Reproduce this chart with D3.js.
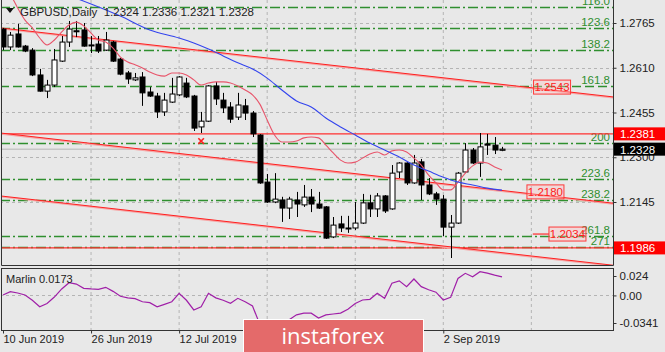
<!DOCTYPE html>
<html>
<head>
<meta charset="utf-8">
<script src="https://cdn.jsdelivr.net/npm/d3@7"></script>
<style>
body { margin: 0; background: #e8e8e8; }
text { font-family: "Liberation Sans", Arial, sans-serif; }
</style>
</head>
<body>
<svg id="chart" width="665" height="352"></svg>
<script>
// daily bars, 10 Jun 2019 .. 12 Sep 2019
var opens  = [1.2744,1.2682,1.2727,1.2685,1.2671,1.2585,1.2529,1.2550,1.2633,1.2699,1.2738,1.2741,1.2689,1.2692,1.2671,1.2699,1.2640,1.2592,1.2568,1.2578,1.2526,1.2512,1.2457,1.2491,1.2516,1.2557,1.2512,1.2405,1.2425,1.2547,1.2498,1.2474,1.2439,1.2478,1.2453,1.2377,1.2214,1.2145,1.2152,1.2124,1.2152,1.2135,1.2162,1.2138,1.2128,1.2024,1.2069,1.2055,1.2055,1.2072,1.2142,1.2121,1.2166,1.2121,1.2249,1.2280,1.2211,1.2284,1.2204,1.2173,1.2155,1.2058,1.2072,1.2249,1.2325,1.2280,1.2346,1.2342,1.2324];
var highs  = [1.2748,1.2734,1.2762,1.2689,1.2678,1.2606,1.2568,1.2675,1.2720,1.2772,1.2772,1.2765,1.2720,1.2720,1.2734,1.2703,1.2644,1.2599,1.2592,1.2595,1.2543,1.2523,1.2523,1.2575,1.2581,1.2575,1.2516,1.2457,1.2550,1.2561,1.2523,1.2491,1.2523,1.2502,1.2460,1.2380,1.2242,1.2245,1.2163,1.2163,1.2180,1.2204,1.2190,1.2180,1.2131,1.2093,1.2097,1.2097,1.2145,1.2173,1.2170,1.2176,1.2169,1.2273,1.2283,1.2283,1.2308,1.2294,1.2228,1.2180,1.2169,1.2100,1.2249,1.2349,1.2332,1.2384,1.2381,1.2370,1.2336];
var lows   = [1.2671,1.2671,1.2680,1.2664,1.2581,1.2527,1.2505,1.2543,1.2630,1.2682,1.2716,1.2683,1.2661,1.2661,1.2668,1.2630,1.2584,1.2554,1.2564,1.2478,1.2509,1.2436,1.2443,1.2488,1.2512,1.2505,1.2391,1.2384,1.2422,1.2481,1.2453,1.2419,1.2429,1.2429,1.2370,1.2208,1.2142,1.2141,1.2076,1.2086,1.2093,1.2128,1.2110,1.2121,1.2017,1.2020,1.2041,1.2038,1.2048,1.2069,1.2093,1.2093,1.2107,1.2118,1.2228,1.2204,1.2208,1.2152,1.2169,1.2135,1.2027,1.1951,1.2069,1.2245,1.2277,1.2232,1.2308,1.2311,1.2321];
var closes = [1.2682,1.2723,1.2682,1.2668,1.2585,1.2529,1.2550,1.2637,1.2699,1.2744,1.2736,1.2685,1.2687,1.2668,1.2706,1.2633,1.2588,1.2571,1.2575,1.2523,1.2512,1.2457,1.2498,1.2519,1.2578,1.2509,1.2401,1.2425,1.2547,1.2502,1.2471,1.2432,1.2481,1.2453,1.2381,1.2211,1.2145,1.2155,1.2124,1.2155,1.2138,1.2162,1.2138,1.2124,1.2020,1.2065,1.2055,1.2052,1.2072,1.2142,1.2121,1.2166,1.2114,1.2245,1.2280,1.2211,1.2280,1.2204,1.2173,1.2155,1.2058,1.2072,1.2245,1.2325,1.2280,1.2336,1.2342,1.2325,1.2328];

// fast (pink) and slow (blue) moving averages
var fastMA = [1.2909,1.2865,1.2817,1.2775,1.2748,1.2713,1.2689,1.2706,1.2734,1.2758,1.2768,1.2755,1.2730,1.2706,1.2699,1.2678,1.2647,1.2630,1.2620,1.2609,1.2595,1.2585,1.2581,1.2592,1.2592,1.2585,1.2568,1.2550,1.2557,1.2561,1.2561,1.2557,1.2547,1.2533,1.2516,1.2484,1.2429,1.2377,1.2353,1.2353,1.2356,1.2367,1.2370,1.2367,1.2342,1.2315,1.2290,1.2280,1.2283,1.2297,1.2311,1.2318,1.2308,1.2322,1.2325,1.2318,1.2297,1.2273,1.2238,1.2211,1.2187,1.2187,1.2214,1.2245,1.2270,1.2283,1.2280,1.2266,1.2256];
var slowIdx = [0,4,8,12,16,20,24,26,28,30,32,34,36,38,40,42,44,46,48,50,52,54,56,58,60,62,64,66,68];
var slowMA  = [1.2949,1.2907,1.2869,1.2831,1.2789,1.2741,1.2713,1.2696,1.2675,1.2651,1.2627,1.2606,1.2574,1.2533,1.2495,1.2474,1.2436,1.2405,1.2377,1.2349,1.2325,1.2301,1.2273,1.2252,1.2231,1.2214,1.2204,1.2193,1.2186];

var marlin = [0.0005,0.0046,0.003,0.0005,-0.006,-0.014,-0.010,-0.002,0.008,0.0157,0.014,0.0088,0.008,0.0075,0.010,0.005,-0.001,-0.003,-0.004,-0.0078,-0.009,-0.014,-0.011,-0.0078,0.0026,-0.006,-0.018,-0.014,0.0026,-0.003,-0.006,-0.0098,-0.0036,-0.0078,-0.013,-0.036,-0.045,-0.048,-0.040,-0.030,-0.024,-0.022,-0.022,-0.028,-0.024,-0.023,-0.0218,-0.017,-0.010,-0.0057,-0.0048,0.0026,-0.0036,0.015,0.018,0.0108,0.0203,0.0108,0.007,0.004,-0.0057,-0.0024,0.021,0.0273,0.0231,0.0293,0.0275,0.025,0.023];

// labelled dates (30 Jul and 15 Aug sit under the watermark and are not shown)
var dateTicks = [0, 12, 24, 60];
var dateLabels = ["10 Jun 2019", "26 Jun 2019", "12 Jul 2019", "2 Sep 2019"];
var gridIdx = [12, 24, 36, 48, 60, 72];
var priceTicks = [1.2765, 1.2610, 1.2455, 1.2300, 1.2145];
var marlinTicks = [0.024, 0, -0.0341];
var marlinTickLabels = ["0.024", "0.00", "-0.0341"];

var fibLevels = [1.2820, 1.2748, 1.2671, 1.2547, 1.2349, 1.2225, 1.2152, 1.2027, 1.1989];
var fibLabels = ["116.0", "123.6", "138.2", "161.8", "200", "223.6", "238.2", "261.8", "271"];
var fibDashed = [false, false, false, true, false, false, false, false, false];

var trendIdx = [0, 80];
var trendStart = [1.2747, 1.2383, 1.2165];
var trendEnd   = [1.2518, 1.2150, 1.1935];
var hLevels = [1.2381, 1.1986];
var objLabels = [1.2543, 1.2180, 1.2034];
var objLabelIdx = [72.3, 71.4, 74.4];
var crossIdx = 27, crossPrice = 1.2356;
var lastPrice = 1.2328;

var W = 665, H = 352, plotR = 613, mainB = 265, subT = 268, subB = 330;
var svg = d3.select("#chart");
var green = "#2f8f2f";

var x = d3.scaleLinear().domain([0, 68]).range([3, 502]);
var y = d3.scaleLinear().domain([1.2145, 1.2765]).range([202, 23]);
var ym = d3.scaleLinear().domain([-0.0341, 0.024]).range([323, 276]);

svg.append("rect").attr("width", W).attr("height", H).attr("fill", "#e8e8e8");

var defs = svg.append("defs");
defs.append("clipPath").attr("id", "clipMain").append("rect")
    .attr("x", 1).attr("y", 0).attr("width", plotR - 1).attr("height", mainB);
defs.append("clipPath").attr("id", "clipSub").append("rect")
    .attr("x", 1).attr("y", subT).attr("width", plotR - 1).attr("height", subB - subT);

var main = svg.append("g").attr("clip-path", "url(#clipMain)");

// grid
main.selectAll(".vg").data(gridIdx).enter().append("line")
    .attr("x1", d => x(d)).attr("x2", d => x(d))
    .attr("y1", 0).attr("y2", mainB)
    .attr("stroke", "#b4b4b4").attr("stroke-dasharray", "3,3");
main.selectAll(".hg").data(priceTicks).enter().append("line")
    .attr("x1", 0).attr("x2", plotR)
    .attr("y1", d => Math.round(y(d)) + 0.5).attr("y2", d => Math.round(y(d)) + 0.5)
    .attr("stroke", "#b4b4b4").attr("stroke-dasharray", "3,3");

// fibo levels
main.selectAll(".fib").data(fibLevels).enter().append("line")
    .attr("x1", 0).attr("x2", plotR)
    .attr("y1", d => Math.round(y(d)) + 0.5).attr("y2", d => Math.round(y(d)) + 0.5)
    .attr("stroke", green).attr("stroke-width", 1.3)
    .attr("stroke-dasharray", (d, i) => fibDashed[i] ? "9,4" : "10,3,2,3");
main.selectAll(".fibt").data(fibLevels).enter().append("text")
    .attr("x", 610).attr("y", d => Math.round(y(d)) - 2)
    .attr("text-anchor", "end").attr("font-size", 11.5).attr("fill", green)
    .text((d, i) => fibLabels[i]);

// bid line
main.append("line").attr("x1", 0).attr("x2", plotR)
    .attr("y1", y(lastPrice)).attr("y2", y(lastPrice))
    .attr("stroke", "#c6c6c6").attr("stroke-width", 1.5);

// horizontal red levels
main.selectAll(".hl").data(hLevels).enter().append("line")
    .attr("x1", 0).attr("x2", plotR)
    .attr("y1", d => y(d)).attr("y2", d => y(d))
    .attr("stroke", "#ff3030").attr("stroke-width", 1.1);

// channel lines, extended across the panel
var xl = x.invert(0), xr = x.invert(plotR);
trendStart.forEach(function(p0, k) {
    var p1 = trendEnd[k];
    var f = d3.scaleLinear().domain(trendIdx).range([p0, p1]);
    main.append("line")
        .attr("x1", 0).attr("y1", y(f(xl)) + 0.8)
        .attr("x2", plotR).attr("y2", y(f(xr)) + 0.8)
        .attr("stroke", "#f6a6a6").attr("stroke-width", 1.6);
    main.append("line")
        .attr("x1", 0).attr("y1", y(f(xl)))
        .attr("x2", plotR).attr("y2", y(f(xr)))
        .attr("stroke", "#ff2020").attr("stroke-width", 1);
});

// short segment to the 1.2034 label
main.append("line")
    .attr("x1", x(objLabelIdx[2] - 2.2)).attr("x2", x(objLabelIdx[2]))
    .attr("y1", y(objLabels[2])).attr("y2", y(objLabels[2]))
    .attr("stroke", "#ff2a2a").attr("stroke-width", 1.2);

// candles
var bars = d3.range(opens.length);
var cg = main.append("g");
cg.selectAll(".wick").data(bars).enter().append("line")
    .attr("x1", i => Math.round(x(i)) + 0.5).attr("x2", i => Math.round(x(i)) + 0.5)
    .attr("y1", i => y(highs[i])).attr("y2", i => y(lows[i]))
    .attr("stroke", "#000");
cg.selectAll(".body").data(bars).enter().append("rect")
    .attr("x", i => Math.round(x(i)) - 2)
    .attr("y", i => y(Math.max(opens[i], closes[i])))
    .attr("width", 5)
    .attr("height", i => Math.max(1, Math.abs(y(opens[i]) - y(closes[i]))))
    .attr("fill", i => closes[i] >= opens[i] ? "#fff" : "#000")
    .attr("stroke", "#000").attr("stroke-width", 1);

// moving averages
main.append("path").datum(bars)
    .attr("d", d3.line().x(i => x(i)).y(i => y(fastMA[i])).curve(d3.curveMonotoneX))
    .attr("fill", "none").attr("stroke", "#e8546a").attr("stroke-width", 1.1);
main.append("path").datum(slowIdx)
    .attr("d", d3.line().x(i => x(i)).y((d, k) => y(slowMA[k])).curve(d3.curveMonotoneX))
    .attr("fill", "none").attr("stroke", "#3344ee").attr("stroke-width", 1.1);

// cross marker
main.append("path")
    .attr("d", d3.symbol().type(d3.symbolX).size(22))
    .attr("transform", "translate(" + x(crossIdx) + "," + y(crossPrice) + ")")
    .attr("stroke", "#ff2020").attr("stroke-width", 1.6);

// object price labels
objLabels.forEach(function(v, k) {
    var bx = x(objLabelIdx[k]), by = y(v);
    main.append("rect").attr("x", bx).attr("y", by - 7).attr("width", 37).attr("height", 14)
        .attr("fill", "rgba(255,190,190,0.35)").attr("stroke", "#ff3a3a");
    main.append("text").attr("x", bx + 18.5).attr("y", by + 4)
        .attr("text-anchor", "middle").attr("font-size", 11.5).attr("fill", "#ff2020")
        .text(v.toFixed(4));
});

// title
svg.append("path").attr("d", "M6,8 L14,8 L10,13 Z").attr("fill", "#111");
svg.append("text").attr("x", 20).attr("y", 16).attr("font-size", 11.5).attr("fill", "#222")
    .style("white-space", "pre")
    .text("GBPUSD,Daily  1.2324 1.2336 1.2321 1.2328");

// sub panel: Marlin
var sub = svg.append("g").attr("clip-path", "url(#clipSub)");
sub.selectAll(".vg").data(gridIdx).enter().append("line")
    .attr("x1", d => x(d)).attr("x2", d => x(d))
    .attr("y1", subT).attr("y2", subB)
    .attr("stroke", "#b4b4b4").attr("stroke-dasharray", "3,3");
sub.append("line").attr("x1", 0).attr("x2", plotR)
    .attr("y1", Math.round(ym(0)) + 0.5).attr("y2", Math.round(ym(0)) + 0.5)
    .attr("stroke", "#b4b4b4").attr("stroke-dasharray", "3,3");
sub.append("path").datum(bars)
    .attr("d", d3.line().x(i => x(i)).y(i => ym(marlin[i])))
    .attr("fill", "none").attr("stroke", "#a020a8").attr("stroke-width", 1.2);
svg.append("text").attr("x", 6).attr("y", 283).attr("font-size", 11).attr("fill", "#222")
    .text("Marlin 0.0173");

// frames
svg.append("path")
    .attr("d", "M1.5,0 V" + (mainB + 0.5) + " H" + (plotR + 0.5) + " V0")
    .attr("fill", "none").attr("stroke", "#333");
svg.append("rect").attr("x", 1.5).attr("y", subT + 0.5)
    .attr("width", plotR - 1).attr("height", subB - subT)
    .attr("fill", "none").attr("stroke", "#333");

// right price axis
var ax = svg.append("g").attr("transform", "translate(" + (plotR + 0.5) + ",0)")
    .call(d3.axisRight(y).tickValues(priceTicks).tickFormat(d3.format(".4f")).tickSize(3).tickPadding(3));
ax.select(".domain").remove();
ax.selectAll("text").attr("font-size", 11.5).attr("fill", "#222").style("font-family", "Liberation Sans, Arial, sans-serif");
ax.selectAll("line").attr("stroke", "#333");

var axm = svg.append("g").attr("transform", "translate(" + (plotR + 0.5) + ",0)")
    .call(d3.axisRight(ym).tickValues(marlinTicks).tickFormat((d, i) => marlinTickLabels[i]).tickSize(3).tickPadding(3));
axm.select(".domain").remove();
axm.selectAll("text").attr("font-size", 11.5).attr("fill", "#222").style("font-family", "Liberation Sans, Arial, sans-serif");
axm.selectAll("line").attr("stroke", "#333");

// date axis
var axd = svg.append("g").attr("transform", "translate(0," + (subB + 0.5) + ")")
    .call(d3.axisBottom(x).tickValues(dateTicks).tickFormat((d, i) => dateLabels[i]).tickSize(3).tickPadding(2));
axd.select(".domain").remove();
axd.selectAll("text").attr("text-anchor", "start").attr("x", 0).attr("font-size", 11).attr("fill", "#222")
    .style("font-family", "Liberation Sans, Arial, sans-serif");
axd.selectAll("line").attr("stroke", "#333");

// right price tags
function tag(v, fill) {
    svg.append("rect").attr("x", plotR + 1).attr("y", y(v) - 6.5).attr("width", W - plotR - 1).attr("height", 13)
        .attr("fill", fill);
    svg.append("text").attr("x", plotR + 7).attr("y", y(v) + 4.5).attr("font-size", 11.5).attr("fill", "#fff")
        .text(v.toFixed(4));
}
tag(hLevels[0], "#ff0000");
tag(lastPrice, "#000");
tag(hLevels[1], "#ff0000");

// watermark
svg.append("rect").attr("x", 243.5).attr("y", 319.5).attr("width", 180).attr("height", 34)
    .attr("fill", "#e46a6a").attr("stroke", "#fff").attr("stroke-width", 1);
svg.append("text").attr("x", 333).attr("y", 344).attr("text-anchor", "middle")
    .attr("font-size", 22).attr("fill", "#fff").style("font-family", "Open Sans, sans-serif")
    .text("instaforex");
</script>
</body>
</html>
